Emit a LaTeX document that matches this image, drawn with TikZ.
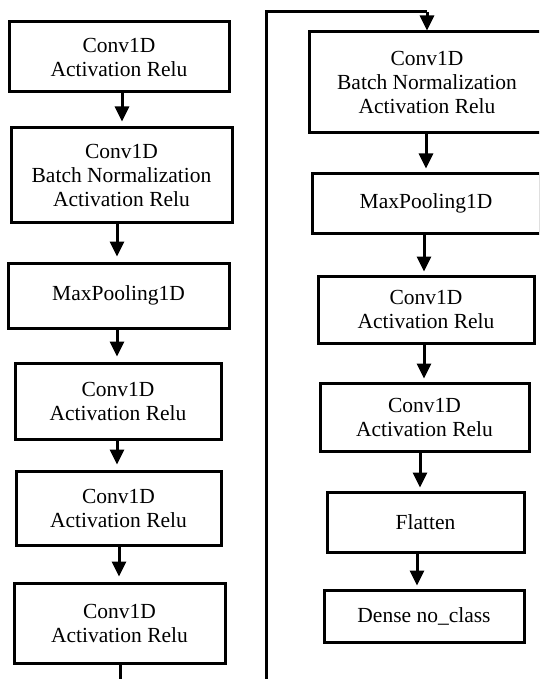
\documentclass[tikz,border=0pt]{standalone}
\usepackage{fontspec}
\setmainfont{Liberation Serif}
\usetikzlibrary{arrows.meta}
\begin{document}
\begin{tikzpicture}[x=1pt,y=-1pt,
  box/.style={draw,line width=3pt,rectangle,align=center,inner sep=0pt,
    font=\fontsize{21.5pt}{24pt}\selectfont},
  arr/.style={line width=3pt,-{Triangle[length=15pt,width=14pt]}},
  link/.style={line width=3pt}]
\useasboundingbox (0,0) rectangle (539,679);
\clip (0,0) rectangle (539,679);
% left column
\node[box,minimum width=220pt,minimum height=70pt] (b1) at (119,57) {Conv1D\\Activation Relu};
\node[box,minimum width=221pt,minimum height=94pt] (b2) at (121.5,175) {Conv1D\\Batch Normalization\\Activation Relu};
\node[box,minimum width=221pt,minimum height=65pt] (b3) at (118.5,295.5) {MaxPooling1D};
\node[box,minimum width=206pt,minimum height=76pt] (b4) at (118,401) {Conv1D\\Activation Relu};
\node[box,minimum width=205pt,minimum height=74pt] (b5) at (118.5,508) {Conv1D\\Activation Relu};
\node[box,minimum width=211pt,minimum height=80pt] (b6) at (119.5,623) {Conv1D\\Activation Relu};
% right column
\node[box,minimum width=236pt,minimum height=101pt] (b7) at (427,82.5) {Conv1D\\Batch Normalization\\Activation Relu};
\node[box,minimum width=228pt,minimum height=60pt] (b8) at (426,203) {MaxPooling1D};
\node[box,minimum width=216pt,minimum height=67pt] (b9) at (426,309.5) {Conv1D\\Activation Relu};
\node[box,minimum width=209pt,minimum height=68pt] (b10) at (424.5,417) {Conv1D\\Activation Relu};
\node[box,minimum width=197pt,minimum height=60pt] (b11) at (425.5,522) {Flatten};
\node[box,minimum width=200pt,minimum height=52pt] (b12) at (424,616) {Dense no\_class};
% arrows left
\draw[arr,shorten >=5pt] (b1.south -| 122,0) -- (b2.north -| 122,0);
\draw[arr,shorten >=5pt] (b2.south -| 117,0) -- (b3.north -| 117,0);
\draw[arr,shorten >=5pt] (b3.south -| 117,0) -- (b4.north -| 117,0);
\draw[arr,shorten >=5pt] (b4.south -| 117,0) -- (b5.north -| 117,0);
\draw[arr,shorten >=5pt] (b5.south -| 119,0) -- (b6.north -| 119,0);
% loop connector
\coordinate (e1) at (120,700);
\coordinate (e2) at (266,700);
\coordinate (t1) at (266,12);
\coordinate (t2) at (427,12);
\draw[link] (b6.south -| 120,0) -- (e1) -- (e2) -- (t1) -- (t2);
\draw[arr] (t2) -- (b7.north);
% arrows right
\draw[arr,shorten >=3pt] (b7.south -| 426,0) -- (b8.north -| 426,0);
\draw[arr,shorten >=3pt] (b8.south -| 424,0) -- (b9.north -| 424,0);
\draw[arr,shorten >=3pt] (b9.south -| 424,0) -- (b10.north -| 424,0);
\draw[arr,shorten >=3pt] (b10.south -| 420,0) -- (b11.north -| 420,0);
\draw[arr,shorten >=3pt] (b11.south -| 417,0) -- (b12.north -| 417,0);
\end{tikzpicture}
\end{document}
